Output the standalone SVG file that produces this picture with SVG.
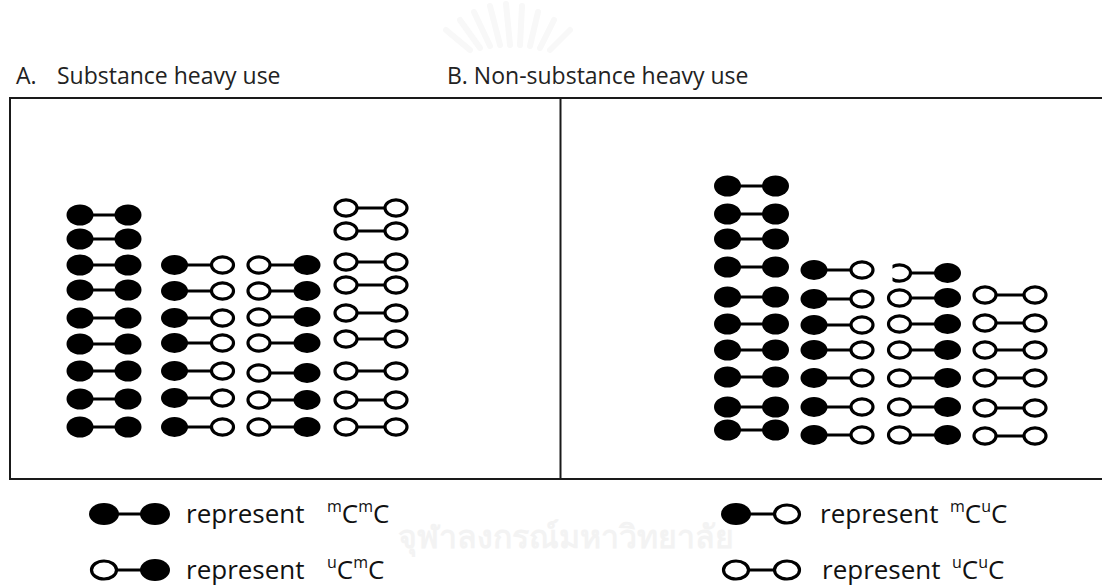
<svg xmlns="http://www.w3.org/2000/svg" width="1102" height="586" viewBox="0 0 1102 586">
<style>
.frame{fill:none;stroke:#1a1a1a;stroke-width:2}
.head{font-family:"Open Sans","Noto Sans",sans-serif;font-size:23px;fill:#222}
.leg{font-family:"Open Sans","Noto Sans",sans-serif;font-size:26px;fill:#111}
.sup{font-size:16px}
.f{fill:#000}
.o{fill:#fff;stroke:#000;stroke-width:3.2}
.bar{stroke:#000;stroke-width:3}
.wm{font-family:"Noto Sans","DejaVu Sans",sans-serif;fill:#f3f3f3;font-weight:bold}
.ray{stroke:#f8f8f8;stroke-width:6;stroke-linecap:round}
</style>
<defs>
<g id="FF"><line class="bar" x1="-12" y1="0" x2="12" y2="0"/><ellipse class="f" cx="-24" cy="0" rx="13.5" ry="10.5"/><ellipse class="f" cx="24" cy="0" rx="13.5" ry="10.5"/></g>
<g id="FO"><line class="bar" x1="-12" y1="0" x2="13" y2="0"/><ellipse class="f" cx="-24" cy="0" rx="13.5" ry="10"/><ellipse class="o" cx="24" cy="0" rx="11" ry="8.2"/></g>
<g id="OF"><line class="bar" x1="-13" y1="0" x2="12" y2="0"/><ellipse class="o" cx="-24" cy="0" rx="11" ry="8.2"/><ellipse class="f" cx="24" cy="0" rx="13.5" ry="10"/></g>
<g id="OO"><line class="bar" x1="-13" y1="0" x2="13" y2="0"/><ellipse class="o" cx="-25" cy="0" rx="11" ry="8.2"/><ellipse class="o" cx="25" cy="0" rx="11" ry="8.2"/></g>
<g id="LFF"><line class="bar" x1="-14" y1="0" x2="14" y2="0"/><ellipse class="f" cx="-25.5" cy="0" rx="15" ry="11"/><ellipse class="f" cx="25.5" cy="0" rx="15" ry="11"/></g>
<g id="LOF"><line class="bar" x1="-14" y1="0" x2="14" y2="0"/><ellipse class="o" cx="-25.5" cy="0" rx="12.5" ry="9"/><ellipse class="f" cx="25.5" cy="0" rx="15" ry="11"/></g>
<g id="LFO"><line class="bar" x1="-14" y1="0" x2="14" y2="0"/><ellipse class="f" cx="-25.5" cy="0" rx="15" ry="11"/><ellipse class="o" cx="25.5" cy="0" rx="12.5" ry="9"/></g>
<g id="LOO"><line class="bar" x1="-14" y1="0" x2="14" y2="0"/><ellipse class="o" cx="-25.5" cy="0" rx="12.5" ry="9"/><ellipse class="o" cx="25.5" cy="0" rx="12.5" ry="9"/></g>
<clipPath id="cut"><rect x="-31" y="-14" width="30" height="28"/></clipPath>
</defs>
<rect width="1102" height="586" fill="#fff"/>

<g id="watermark">
<line class="ray" x1="470" y1="50" x2="446" y2="30"/>
<line class="ray" x1="480" y1="48" x2="460" y2="20"/>
<line class="ray" x1="490" y1="46" x2="474" y2="12"/>
<line class="ray" x1="500" y1="45" x2="490" y2="6"/>
<line class="ray" x1="510" y1="45" x2="506" y2="4"/>
<line class="ray" x1="520" y1="45" x2="522" y2="6"/>
<line class="ray" x1="530" y1="46" x2="538" y2="12"/>
<line class="ray" x1="540" y1="48" x2="554" y2="20"/>
<line class="ray" x1="550" y1="50" x2="570" y2="30"/>
<text class="wm" x="398" y="548" font-size="32">จุฬาลงกรณ์มหาวิทยาลัย</text>
</g>

<g id="headings">
<text class="head" x="16" y="84">A.</text>
<text class="head" x="57" y="84">Substance heavy use</text>
<text class="head" x="447" y="84">B. Non-substance heavy use</text>
</g>

<g id="frame">
<rect class="frame" x="10" y="98" width="1100" height="381"/>
<line class="frame" x1="560.5" y1="98" x2="560.5" y2="479"/>
</g>

<g id="panelA">
<g id="A-col1">
<use href="#FF" x="104" y="215"/><use href="#FF" x="104" y="239"/><use href="#FF" x="104" y="265"/><use href="#FF" x="104" y="290"/><use href="#FF" x="104" y="318"/><use href="#FF" x="104" y="344"/><use href="#FF" x="104" y="371"/><use href="#FF" x="104" y="399"/><use href="#FF" x="104" y="427"/>
</g>
<g id="A-col2">
<use href="#FO" x="198.5" y="265"/><use href="#FO" x="198.5" y="291"/><use href="#FO" x="198.5" y="318"/><use href="#FO" x="198.5" y="343"/><use href="#FO" x="198.5" y="371"/><use href="#FO" x="198.5" y="398"/><use href="#FO" x="198.5" y="427"/>
</g>
<g id="A-col3">
<use href="#OF" x="283" y="265"/><use href="#OF" x="283" y="291"/><use href="#OF" x="283" y="317"/><use href="#OF" x="283" y="343"/><use href="#OF" x="283" y="373"/><use href="#OF" x="283" y="400"/><use href="#OF" x="283" y="427"/>
</g>
<g id="A-col4">
<use href="#OO" x="371" y="208"/><use href="#OO" x="371" y="231"/><use href="#OO" x="371" y="262"/><use href="#OO" x="371" y="285"/><use href="#OO" x="371" y="313"/><use href="#OO" x="371" y="339"/><use href="#OO" x="371" y="371"/><use href="#OO" x="371" y="400"/><use href="#OO" x="371" y="427"/>
</g>
</g>

<g id="panelB">
<g id="B-col1">
<use href="#FF" x="751.5" y="186"/><use href="#FF" x="751.5" y="214"/><use href="#FF" x="751.5" y="239"/><use href="#FF" x="751.5" y="267"/><use href="#FF" x="751.5" y="297"/><use href="#FF" x="751.5" y="324"/><use href="#FF" x="751.5" y="350"/><use href="#FF" x="751.5" y="377"/><use href="#FF" x="751.5" y="407"/><use href="#FF" x="751.5" y="430"/>
</g>
<g id="B-col2">
<use href="#FO" x="838" y="270"/><use href="#FO" x="838" y="299"/><use href="#FO" x="838" y="325"/><use href="#FO" x="838" y="350"/><use href="#FO" x="838" y="378"/><use href="#FO" x="838" y="407"/><use href="#FO" x="838" y="435"/>
</g>
<g id="B-col3">
<g transform="translate(923.5 273)"><line class="bar" x1="-13" y1="0" x2="12" y2="0"/><ellipse class="o" cx="-24" cy="0" rx="11" ry="8.2" clip-path="url(#cut)"/><ellipse class="f" cx="24" cy="0" rx="13.5" ry="10"/></g>
<use href="#OF" x="923.5" y="298"/><use href="#OF" x="923.5" y="324"/><use href="#OF" x="923.5" y="350"/><use href="#OF" x="923.5" y="378"/><use href="#OF" x="923.5" y="407"/><use href="#OF" x="923.5" y="435"/>
</g>
<g id="B-col4">
<use href="#OO" x="1010" y="295"/><use href="#OO" x="1010" y="323"/><use href="#OO" x="1010" y="350"/><use href="#OO" x="1010" y="378"/><use href="#OO" x="1010" y="408"/><use href="#OO" x="1010" y="436"/>
</g>
</g>

<g id="legend">
<g id="leg-mCmC">
<use href="#LFF" x="129.5" y="514"/>
<text class="leg" x="186" y="523">represent</text>
<text class="leg" x="327" y="523"><tspan class="sup" dy="-11">m</tspan><tspan dy="11">C</tspan><tspan class="sup" dy="-11">m</tspan><tspan dy="11">C</tspan></text>
</g>
<g id="leg-uCmC">
<use href="#LOF" x="129.5" y="570"/>
<text class="leg" x="186" y="579">represent</text>
<text class="leg" x="327" y="579"><tspan class="sup" dy="-11">u</tspan><tspan dy="11">C</tspan><tspan class="sup" dy="-11">m</tspan><tspan dy="11">C</tspan></text>
</g>
<g id="leg-mCuC">
<use href="#LFO" x="761.5" y="514"/>
<text class="leg" x="820" y="523">represent</text>
<text class="leg" x="950" y="523"><tspan class="sup" dy="-11">m</tspan><tspan dy="11">C</tspan><tspan class="sup" dy="-11">u</tspan><tspan dy="11">C</tspan></text>
</g>
<g id="leg-uCuC">
<use href="#LOO" x="761.5" y="570"/>
<text class="leg" x="822" y="579">represent</text>
<text class="leg" x="952" y="579"><tspan class="sup" dy="-11">u</tspan><tspan dy="11">C</tspan><tspan class="sup" dy="-11">u</tspan><tspan dy="11">C</tspan></text>
</g>
</g>
</svg>
